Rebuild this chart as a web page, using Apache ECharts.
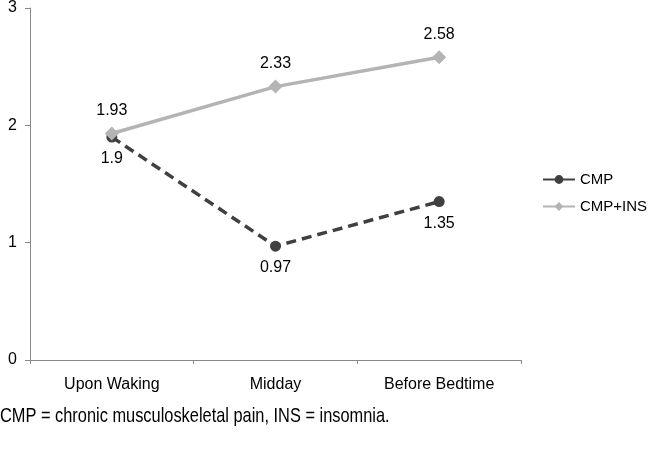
<!DOCTYPE html>
<html><head><meta charset="utf-8">
<script src="https://cdn.jsdelivr.net/npm/echarts@6/dist/echarts.min.js"></script>
<style>html,body{margin:0;padding:0;background:#fff}#c{width:650px;height:454px}</style>
</head><body><div id="c"></div>
<script>
var categories = ['Upon Waking', 'Midday', 'Before Bedtime'];
var cmp = [1.9, 0.97, 1.35];
var cmpIns = [1.93, 2.33, 2.58];
var yTicks = [0, 1, 2, 3];
var caption = 'CMP = chronic musculoskeletal pain, INS = insomnia.';

var chart = echarts.init(document.getElementById('c'));
var font = 'Liberation Sans, Arial, sans-serif';
chart.setOption({
  animation: false,
  textStyle: {fontFamily: font},
  grid: {left: 30, right: 129, top: 7, bottom: 94},
  legend: {
    orient: 'vertical', left: 537, top: 167, padding: 5, itemWidth: 32, itemHeight: 11, itemGap: 12,
    textStyle: {fontSize: 15, color: '#000', fontFamily: font},
    lineStyle: {type: 'solid'},
    data: ['CMP', 'CMP+INS']
  },
  xAxis: {
    type: 'category', data: categories, boundaryGap: true,
    axisLine: {lineStyle: {color: '#888', width: 1}},
    axisTick: {show: true, length: 4, lineStyle: {color: '#888'}},
    axisLabel: {fontSize: 16, color: '#000', margin: 17, fontFamily: font}
  },
  yAxis: {
    type: 'value', min: yTicks[0], max: yTicks[yTicks.length - 1], interval: 1,
    axisLine: {show: true, lineStyle: {color: '#888', width: 1}},
    axisTick: {show: true, length: 5, lineStyle: {color: '#888'}},
    splitLine: {show: false},
    axisLabel: {fontSize: 16, color: '#000', margin: 13, fontFamily: font}
  },
  series: [
    {
      name: 'CMP', type: 'line', data: cmp, symbol: 'circle', symbolSize: 11,
      lineStyle: {color: '#404040', width: 3.5, type: [10, 6]},
      itemStyle: {color: '#404040'},
      label: {show: true, position: 'bottom', distance: 8, fontSize: 16, color: '#000', fontFamily: font},
      z: 2
    },
    {
      name: 'CMP+INS', type: 'line', data: cmpIns, symbol: 'diamond', symbolSize: 14,
      lineStyle: {color: '#b4b4b4', width: 3.5},
      itemStyle: {color: '#b4b4b4'},
      label: {show: true, position: 'top', distance: 8, fontSize: 16, color: '#000', fontFamily: font},
      z: 3
    }
  ],
  graphic: [{
    type: 'text', left: 0, top: 406, scaleX: 0.78,
    style: {text: caption, fontSize: 21, fill: '#000', fontFamily: font}
  }]
});
</script></body></html>
